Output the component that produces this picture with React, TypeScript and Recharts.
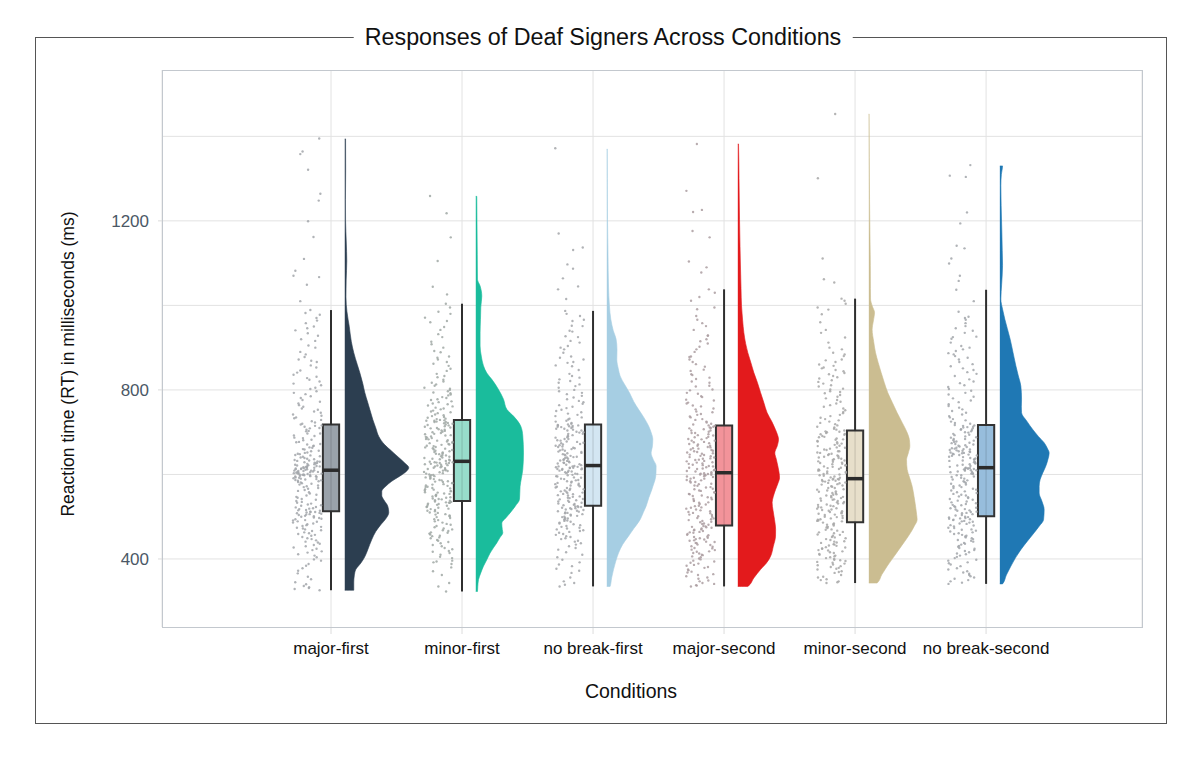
import React from "react";
import {
  ComposedChart,
  Scatter,
  XAxis,
  YAxis,
  CartesianGrid,
  ReferenceArea,
  ReferenceLine,
} from "recharts";

const CONDITIONS = [
  "major-first",
  "minor-first",
  "no break-first",
  "major-second",
  "minor-second",
  "no break-second",
];

const Y_TICKS = [400, 800, 1200];
const Y_GRID = [400, 600, 800, 1000, 1200, 1400];

const VIOLIN_COLORS = ["#2c3e50", "#1abc9c", "#a6cee3", "#e31a1c", "#cbbd91", "#1f78b4"];
const BOX_COLORS = ["#9aa2aa", "#98dccb", "#d3e6f2", "#f2939a", "#e7dfca", "#97bddc"];
const POINT_COLORS = ["#a2a6aa", "#a0a8a5", "#a3a6a9", "#ab9da1", "#a7a7a7", "#a2a6aa"];

// box plot stats (ms)
const WHISKER_LOW = [326, 323, 335, 335, 343, 341];
const Q1 = [513, 537, 526, 479, 487, 501];
const MEDIAN = [610, 631, 621, 604, 590, 616];
const Q3 = [718, 729, 718, 716, 704, 717];
const WHISKER_HIGH = [989, 1004, 987, 1038, 1016, 1037];

// reaction times per condition (ms)
const RT_MAJOR_FIRST = [
  326, 329, 333, 336, 340, 352, 366, 378, 388, 396, 404, 411, 418, 424, 430, 436, 441, 447, 452, 457,
  461, 466, 470, 474, 478, 482, 486, 489, 492, 495, 498, 500, 502, 504, 506, 507, 509, 510, 511, 512,
  514, 516, 518, 520, 523, 526, 529, 533, 537, 542, 547, 552, 558, 563, 568, 572, 576, 579, 582, 585,
  587, 589, 591, 593, 595, 596, 597, 598, 599, 600, 601, 602, 603, 604, 605, 606, 607, 608, 609, 610,
  611, 612, 613, 614, 615, 616, 617, 618, 619, 620, 621, 622, 624, 626, 628, 630, 632, 634, 637, 640,
  643, 646, 649, 652, 656, 660, 664, 668, 672, 677, 682, 687, 692, 697, 702, 706, 710, 713, 716, 718,
  723, 729, 735, 742, 749, 756, 764, 772, 781, 790, 797, 805, 815, 824, 831, 841, 853, 866, 872, 884,
  900, 916, 928, 941, 950, 964, 978, 989, 1049, 1067, 1070, 1082, 1162, 1199, 1248, 1264, 1321, 1358, 1364, 1395,
  331, 345, 358, 372, 384, 399, 408, 415, 421, 427, 433, 439, 444, 449, 455, 459, 463, 468, 472, 476,
  480, 484, 488, 491, 494, 497, 501, 505, 508, 511, 515, 519, 522, 527, 531, 535, 540, 545, 550, 555,
  561, 566, 570, 574, 578, 581, 584, 586, 588, 590, 592, 594, 596, 598, 600, 602, 604, 606, 608, 609,
  612, 614, 616, 618, 620, 623, 625, 627, 629, 631, 633, 636, 639, 642, 645, 648, 651, 655, 659, 663,
  667, 671, 676, 681, 686, 691, 697, 703, 709, 715, 720, 726, 733, 739, 746, 753, 760, 768, 776, 785,
  793, 802, 811, 820, 828, 836, 846, 858, 869, 878, 890, 905, 920, 934, 946, 958, 970, 982, 1010, 1110,
];
const RT_MINOR_FIRST = [
  323, 343, 371, 388, 392, 396, 405, 414, 419, 426, 433, 440, 445, 451, 455, 460, 463, 468, 472, 478,
  483, 489, 494, 499, 503, 506, 510, 513, 516, 519, 521, 524, 526, 528, 530, 531, 533, 534, 535, 536,
  538, 541, 543, 546, 549, 551, 554, 557, 560, 562, 565, 568, 571, 573, 576, 579, 582, 584, 587, 590,
  592, 595, 598, 600, 603, 605, 608, 610, 613, 615, 617, 619, 621, 623, 624, 626, 627, 628, 629, 630,
  632, 635, 637, 640, 642, 645, 648, 650, 653, 656, 659, 661, 664, 667, 670, 672, 675, 678, 681, 684,
  687, 690, 692, 695, 698, 701, 703, 706, 709, 711, 713, 716, 718, 720, 722, 724, 725, 727, 728, 729,
  732, 736, 740, 745, 749, 754, 758, 763, 768, 773, 778, 783, 789, 794, 800, 805, 813, 820, 833, 845,
  857, 866, 872, 879, 889, 900, 914, 932, 949, 963, 971, 985, 995, 1004, 1026, 1044, 1105, 1161, 1218, 1259,
  335, 362, 380, 394, 402, 410, 417, 423, 430, 437, 443, 449, 454, 458, 462, 466, 470, 475, 481, 486,
  492, 497, 501, 505, 509, 514, 518, 523, 528, 533, 539, 542, 545, 548, 552, 555, 558, 561, 564, 567,
  570, 574, 577, 580, 583, 586, 589, 593, 596, 599, 602, 606, 609, 612, 616, 619, 622, 625, 627, 629,
  633, 636, 639, 643, 646, 649, 652, 655, 658, 662, 665, 668, 671, 674, 677, 680, 683, 686, 689, 693,
  696, 700, 704, 707, 710, 714, 717, 721, 724, 727, 731, 734, 738, 742, 747, 751, 756, 761, 766, 771,
  776, 781, 787, 792, 797, 803, 810, 817, 824, 830, 838, 850, 862, 876, 892, 908, 925, 942, 960, 980,
];
const RT_NOBREAK_FIRST = [
  335, 343, 347, 367, 372, 383, 387, 398, 410, 422, 430, 437, 443, 449, 454, 459, 464, 468, 472, 476,
  480, 484, 488, 491, 494, 497, 500, 503, 505, 508, 510, 512, 514, 516, 518, 520, 521, 523, 524, 525,
  527, 530, 533, 536, 539, 542, 545, 548, 551, 554, 557, 560, 563, 566, 569, 572, 575, 578, 581, 584,
  587, 590, 593, 596, 599, 601, 603, 605, 607, 609, 611, 612, 613, 614, 615, 616, 617, 618, 619, 620,
  622, 624, 627, 629, 632, 634, 637, 640, 642, 645, 648, 651, 654, 657, 660, 663, 666, 669, 672, 675,
  678, 681, 684, 687, 690, 693, 696, 699, 701, 704, 706, 708, 710, 712, 713, 714, 715, 716, 717, 718,
  722, 727, 732, 738, 744, 750, 757, 764, 771, 778, 786, 793, 800, 809, 817, 825, 833, 858, 864, 872,
  879, 896, 904, 916, 927, 940, 951, 963, 975, 987, 1015, 1038, 1045, 1064, 1087, 1097, 1131, 1137, 1170, 1372,
  339, 356, 377, 392, 404, 416, 426, 434, 441, 447, 452, 457, 462, 466, 470, 474, 478, 482, 486, 490,
  493, 496, 499, 502, 506, 509, 513, 517, 520, 523, 528, 531, 535, 538, 541, 544, 547, 550, 553, 556,
  559, 562, 565, 568, 571, 574, 577, 580, 583, 586, 589, 592, 595, 598, 602, 606, 609, 613, 616, 619,
  623, 626, 628, 631, 633, 636, 639, 641, 644, 647, 650, 653, 656, 659, 662, 665, 668, 671, 674, 677,
  680, 684, 688, 692, 696, 700, 704, 708, 712, 716, 720, 725, 730, 735, 741, 747, 753, 760, 767, 774,
  782, 790, 797, 805, 813, 821, 829, 838, 847, 856, 866, 876, 888, 900, 912, 925, 938, 952, 966, 980,
];
const RT_MAJOR_SECOND = [
  335, 338, 343, 347, 353, 359, 364, 370, 375, 381, 386, 391, 396, 401, 406, 410, 414, 418, 422, 426,
  430, 434, 438, 441, 444, 447, 450, 453, 456, 459, 462, 464, 466, 468, 470, 472, 474, 476, 477, 478,
  481, 484, 487, 490, 494, 497, 501, 504, 508, 511, 515, 519, 522, 526, 530, 534, 538, 542, 546, 550,
  554, 558, 562, 566, 570, 574, 578, 581, 584, 587, 590, 592, 594, 596, 598, 599, 600, 601, 602, 603,
  605, 608, 611, 614, 617, 620, 623, 626, 629, 632, 635, 638, 641, 644, 647, 650, 653, 656, 659, 662,
  665, 668, 671, 674, 677, 680, 683, 686, 689, 692, 695, 698, 701, 704, 707, 709, 711, 713, 715, 716,
  720, 725, 731, 737, 743, 749, 756, 763, 770, 777, 785, 793, 801, 810, 820, 829, 837, 848, 861, 872,
  879, 896, 910, 920, 929, 951, 966, 991, 1011, 1030, 1038, 1078, 1090, 1104, 1161, 1176, 1221, 1226, 1271, 1382,
  337, 341, 349, 356, 362, 368, 373, 379, 384, 389, 394, 399, 404, 409, 413, 417, 421, 425, 429, 433,
  437, 440, 443, 446, 449, 452, 457, 463, 469, 475, 483, 488, 492, 496, 500, 505, 509, 513, 517, 521,
  525, 529, 533, 537, 541, 545, 549, 553, 557, 561, 565, 569, 573, 577, 582, 586, 590, 595, 599, 602,
  607, 610, 613, 616, 619, 622, 625, 628, 631, 634, 637, 640, 643, 646, 649, 652, 655, 658, 661, 664,
  668, 672, 676, 680, 684, 688, 693, 698, 704, 710, 718, 723, 729, 735, 741, 747, 754, 761, 768, 775,
  783, 791, 799, 808, 817, 826, 835, 845, 855, 866, 878, 890, 902, 915, 928, 942, 958, 975, 995, 1020,
];
const RT_MINOR_SECOND = [
  343, 347, 352, 358, 367, 371, 375, 379, 383, 387, 391, 395, 398, 402, 406, 410, 414, 418, 421, 425,
  428, 432, 435, 439, 442, 445, 449, 452, 455, 458, 461, 464, 467, 470, 473, 476, 479, 482, 484, 486,
  489, 491, 494, 496, 499, 502, 505, 508, 511, 514, 517, 520, 523, 526, 529, 532, 535, 538, 541, 544,
  547, 550, 553, 556, 559, 562, 565, 568, 571, 574, 577, 579, 581, 583, 585, 586, 587, 588, 589, 590,
  592, 595, 598, 601, 604, 607, 610, 613, 616, 619, 622, 625, 628, 631, 634, 637, 640, 643, 646, 649,
  652, 655, 658, 661, 664, 667, 670, 673, 676, 679, 682, 685, 688, 691, 694, 696, 698, 700, 702, 704,
  708, 713, 719, 725, 731, 738, 745, 752, 760, 768, 776, 784, 792, 797, 803, 811, 819, 827, 833, 840,
  847, 853, 857, 866, 872, 880, 888, 900, 924, 942, 979, 995, 1004, 1011, 1016, 1054, 1062, 1111, 1301, 1453,
  345, 350, 356, 362, 369, 377, 381, 385, 389, 393, 397, 400, 404, 408, 412, 416, 420, 424, 427, 431,
  434, 438, 441, 447, 451, 457, 463, 469, 475, 481, 490, 493, 497, 500, 504, 507, 510, 513, 516, 519,
  522, 525, 528, 531, 534, 537, 540, 543, 546, 549, 552, 556, 560, 564, 568, 572, 576, 580, 584, 588,
  593, 597, 600, 603, 606, 609, 612, 615, 618, 621, 624, 627, 630, 633, 636, 639, 642, 645, 648, 651,
  655, 659, 663, 668, 673, 678, 683, 689, 695, 701, 706, 711, 716, 722, 728, 734, 741, 748, 756, 764,
  772, 780, 788, 795, 801, 808, 815, 823, 830, 837, 844, 851, 860, 870, 884, 896, 912, 935, 960, 990,
];
const RT_NOBREAK_SECOND = [
  341, 347, 353, 359, 365, 371, 378, 387, 392, 396, 402, 408, 413, 419, 424, 429, 434, 438, 443, 447,
  451, 455, 459, 463, 467, 470, 474, 477, 480, 483, 486, 488, 490, 492, 494, 495, 496, 498, 499, 500,
  503, 506, 509, 512, 515, 518, 521, 525, 528, 532, 536, 540, 544, 548, 552, 556, 560, 564, 568, 572,
  576, 580, 584, 588, 592, 595, 598, 601, 603, 605, 607, 609, 610, 611, 612, 613, 614, 615, 615, 616,
  618, 621, 624, 627, 630, 633, 636, 639, 642, 645, 647, 649, 651, 653, 655, 657, 659, 661, 663, 666,
  669, 672, 675, 678, 681, 684, 687, 690, 693, 696, 699, 702, 705, 707, 709, 711, 713, 715, 716, 717,
  722, 728, 735, 742, 750, 758, 766, 775, 784, 793, 802, 811, 820, 833, 842, 851, 861, 872, 880, 887,
  896, 904, 921, 926, 940, 951, 966, 973, 1037, 1058, 1070, 1099, 1111, 1135, 1141, 1194, 1220, 1304, 1307, 1332,
  344, 350, 356, 362, 368, 375, 383, 390, 398, 405, 411, 416, 421, 426, 431, 436, 441, 445, 449, 453,
  457, 461, 465, 469, 473, 479, 484, 489, 493, 497, 504, 508, 511, 514, 517, 520, 523, 527, 530, 534,
  538, 542, 546, 550, 554, 558, 562, 566, 570, 574, 578, 582, 586, 590, 594, 598, 602, 606, 610, 614,
  620, 623, 626, 629, 632, 635, 638, 641, 644, 646, 648, 650, 652, 654, 656, 658, 660, 662, 665, 668,
  671, 674, 677, 680, 684, 688, 694, 700, 706, 712, 720, 725, 731, 738, 746, 754, 762, 771, 780, 789,
  798, 807, 816, 825, 838, 847, 856, 866, 876, 884, 892, 900, 912, 925, 935, 946, 958, 970, 985, 1010,
];
const RT = [RT_MAJOR_FIRST, RT_MINOR_FIRST, RT_NOBREAK_FIRST, RT_MAJOR_SECOND, RT_MINOR_SECOND, RT_NOBREAK_SECOND];

// half-violin profiles, top to bottom: [ms, density (arbitrary units)]
const DENSITY_MAJOR_FIRST = [
  [1394, 0.8], [1320, 0.9], [1250, 0.7], [1200, 0.8], [1150, 1.5], [1105, 2.0], [1060, 1.4], [1020, 1.2],
  [985, 2.2], [950, 4.5], [915, 6.5], [888, 9], [860, 12.5], [841, 15], [815, 18], [794, 20], [770, 23],
  [754, 25], [730, 28], [710, 31], [690, 34], [670, 40], [655, 47], [640, 54], [627, 60], [616, 64],
  [606, 61], [596, 55], [584, 47], [572, 41], [560, 37], [550, 37], [540, 39], [525, 43], [510, 44],
  [495, 41], [481, 36], [465, 31], [446, 27], [422, 23], [405, 20], [390, 16], [375, 11], [360, 9.5],
  [345, 9], [326, 9],
];
const DENSITY_MINOR_FIRST = [
  [1258, 1], [1200, 1.2], [1120, 1.5], [1062, 1.7], [1046, 4.3], [1022, 6], [995, 5], [967, 4.7],
  [935, 4.3], [904, 4.3], [880, 5.5], [857, 7.7], [840, 11], [825, 16], [801, 22.7], [778, 27.7],
  [754, 31], [738, 37.7], [714, 45], [691, 47], [651, 47.7], [612, 47], [590, 45.5], [572, 44.3],
  [555, 44], [541, 43.7], [525, 39.5], [509, 34.3], [497, 30], [485, 26], [470, 26.5], [462, 27],
  [450, 24], [438, 21], [426, 17.5], [414, 14.3], [398, 11], [383, 7.7], [367, 5], [351, 2.7],
  [335, 2], [323, 1.7],
];
const DENSITY_NOBREAK_FIRST = [
  [1370, 0.5], [1300, 0.6], [1204, 0.7], [1120, 1.2], [1046, 1.7], [1000, 2.6], [967, 4], [940, 6.5],
  [920, 9.3], [895, 10.2], [872, 10], [850, 11.5], [833, 13.3], [812, 18], [793, 22.7], [772, 27],
  [754, 31.7], [735, 37], [715, 41.7], [698, 44.5], [683, 46], [665, 45.5], [651, 44.3], [635, 46.5],
  [620, 49.3], [604, 49.2], [588, 48.3], [575, 46.5], [564, 45], [545, 42], [525, 39.3], [510, 36.5],
  [493, 33.3], [472, 27], [454, 21.7], [435, 16], [414, 11.7], [395, 9], [375, 6.7], [355, 4.8],
  [335, 3.3],
];
const DENSITY_MAJOR_SECOND = [
  [1382, 0.7], [1300, 1.2], [1204, 1.7], [1140, 2.2], [1086, 2.7], [1040, 3.2], [999, 3.7], [965, 4.8],
  [936, 6], [910, 7.8], [888, 10], [865, 13], [841, 16], [818, 19.5], [794, 22.7], [770, 26],
  [746, 29.3], [725, 34], [706, 37.7], [695, 39.5], [683, 40.7], [668, 39.5], [651, 37], [636, 38.5],
  [620, 40], [605, 41.2], [592, 41.7], [578, 40], [564, 37.7], [548, 35.5], [533, 34.3], [515, 35.2],
  [493, 36.7], [470, 37.8], [454, 37.7], [430, 35.5], [406, 32.7], [390, 28.5], [375, 22.7], [355, 16],
  [335, 10],
];
const DENSITY_MINOR_SECOND = [
  [1453, 0.3], [1350, 0.5], [1251, 0.7], [1170, 1.1], [1094, 1.5], [1040, 1.6], [1015, 1.7], [998, 3.5],
  [983, 5.7], [963, 4.5], [943, 3.3], [915, 4.8], [888, 6.7], [865, 9.3], [841, 12.3], [817, 15.5],
  [793, 19], [770, 23.5], [746, 28.3], [722, 33.5], [699, 38.3], [683, 40.5], [667, 41], [651, 39.5],
  [635, 37.7], [612, 38.3], [592, 40.8], [572, 43.3], [548, 45.2], [525, 46.7], [505, 47.8], [493, 48.3],
  [478, 45.5], [462, 41.7], [442, 36], [422, 30], [402, 24], [383, 18.3], [363, 13], [343, 8.3],
];
const DENSITY_NOBREAK_SECOND = [
  [1330, 2.7], [1310, 1.5], [1283, 1], [1236, 1.3], [1173, 2], [1130, 2.4], [1094, 2.7], [1050, 1.8],
  [1015, 1], [990, 2.8], [967, 5], [945, 7.5], [920, 10.3], [888, 13.2], [857, 16], [833, 18.5],
  [809, 21], [778, 21.7], [760, 21.5], [746, 21.7], [726, 27], [707, 32.7], [690, 38.5], [675, 44.3],
  [662, 47.5], [651, 49.3], [635, 48], [620, 46], [604, 43], [588, 40.3], [572, 39.3], [556, 39.3],
  [537, 42], [517, 44.3], [493, 43.7], [478, 39.5], [462, 34.3], [442, 27.5], [422, 21], [402, 15.5],
  [383, 11], [362, 6.5], [341, 2.7],
];
const DENSITY = [
  DENSITY_MAJOR_FIRST,
  DENSITY_MINOR_FIRST,
  DENSITY_NOBREAK_FIRST,
  DENSITY_MAJOR_SECOND,
  DENSITY_MINOR_SECOND,
  DENSITY_NOBREAK_SECOND,
];

// layout, in x-axis units (1 = distance between two conditions)
const BOX_HALF = 0.062;
const VIOLIN_GAP = 0.105;
const DENSITY_SCALE = 1 / 131;
const CLOUD_CENTER = -0.18;
const CLOUD_HALF = 0.11;

const FONT = "'Liberation Sans', Arial, Helvetica, sans-serif";

// deterministic jitter so the picture is stable
const jitter = (k: number) => {
  const s = Math.sin((k + 1) * 12.9898) * 43758.5453;
  return s - Math.floor(s);
};

const cloudData = (i: number) =>
  RT[i].map((y, k) => ({
    x: i + 1 + CLOUD_CENTER + CLOUD_HALF * (2 * jitter(k + i * 331) - 1),
    y,
  }));

const violinData = (i: number) => {
  const prof = DENSITY[i];
  const base = i + 1 + VIOLIN_GAP;
  return [
    { x: base, y: prof[0][0] + 0.01 },
    ...prof.map(([y, d]) => ({ x: base + d * DENSITY_SCALE, y })),
    { x: base, y: prof[prof.length - 1][0] - 0.01 },
  ];
};

const noShape = () => <g />;
const dotShape = (color: string) => (props: any) =>
  <circle cx={props.cx} cy={props.cy} r={1.2} fill={color} fillOpacity={0.85} />;

export default function App() {
  return (
    <div style={{ position: "absolute", left: 0, top: 0, width: 1200, height: 757, background: "#fff", fontFamily: FONT }}>
      <div
        style={{
          position: "absolute",
          left: 35,
          top: 37,
          width: 1132,
          height: 687,
          border: "1px solid #555",
          boxSizing: "border-box",
        }}
      />
      <div
        style={{
          position: "absolute",
          left: 603,
          top: 37,
          transform: "translate(-50%, -50%)",
          background: "#fff",
          padding: "0 11px",
          fontSize: 23.3,
          color: "#111",
          whiteSpace: "nowrap",
        }}
      >
        Responses of Deaf Signers Across Conditions
      </div>

      <div style={{ position: "absolute", left: 0, top: 0 }}>
        <ComposedChart width={1200} height={757} margin={{ top: 70, right: 58, bottom: 90, left: 102 }}>
          <CartesianGrid stroke="#e2e2e2" horizontalValues={Y_GRID} />
          <XAxis
            dataKey="x"
            type="number"
            domain={[-0.29, 7.19]}
            allowDataOverflow
            ticks={[1, 2, 3, 4, 5, 6]}
            interval={0}
            tickFormatter={(v: number) => CONDITIONS[v - 1]}
            axisLine={false}
            tickLine={{ stroke: "#dcdcdc" }}
            tickSize={7}
            tickMargin={8}
            height={40}
            tick={{ fontSize: 17, fill: "#111", fontFamily: FONT }}
          />
          <YAxis
            dataKey="y"
            type="number"
            domain={[239, 1557]}
            allowDataOverflow
            ticks={Y_TICKS}
            interval={0}
            axisLine={false}
            tickLine={{ stroke: "#dcdcdc" }}
            tickSize={4}
            tickMargin={9}
            width={60}
            tick={{ fontSize: 17, fill: "#4b5866", fontFamily: FONT }}
          />

          {CONDITIONS.map((c, i) => (
            <Scatter
              key={"pts-" + c}
              data={cloudData(i)}
              shape={dotShape(POINT_COLORS[i])}
              isAnimationActive={false}
            />
          ))}

          {CONDITIONS.map((c, i) => (
            <Scatter
              key={"vio-" + c}
              data={violinData(i)}
              shape={noShape}
              line={{ fill: VIOLIN_COLORS[i], stroke: VIOLIN_COLORS[i], strokeWidth: 0.6 }}
              lineJointType="monotoneY"
              isAnimationActive={false}
            />
          ))}

          {CONDITIONS.map((c, i) => (
            <ReferenceLine
              key={"wlo-" + c}
              segment={[{ x: i + 1, y: WHISKER_LOW[i] }, { x: i + 1, y: Q1[i] }]}
              stroke="#2f2f2f"
              strokeWidth={2}
            />
          ))}
          {CONDITIONS.map((c, i) => (
            <ReferenceLine
              key={"whi-" + c}
              segment={[{ x: i + 1, y: Q3[i] }, { x: i + 1, y: WHISKER_HIGH[i] }]}
              stroke="#2f2f2f"
              strokeWidth={2}
            />
          ))}
          {CONDITIONS.map((c, i) => (
            <ReferenceArea
              key={"box-" + c}
              x1={i + 1 - BOX_HALF}
              x2={i + 1 + BOX_HALF}
              y1={Q1[i]}
              y2={Q3[i]}
              fill={BOX_COLORS[i]}
              fillOpacity={1}
              stroke="#333"
              strokeWidth={2}
            />
          ))}
          {CONDITIONS.map((c, i) => (
            <ReferenceLine
              key={"win-" + c}
              segment={[{ x: i + 1, y: Q1[i] }, { x: i + 1, y: Q3[i] }]}
              stroke="#000"
              strokeOpacity={0.1}
              strokeWidth={1.5}
            />
          ))}
          {CONDITIONS.map((c, i) => (
            <ReferenceLine
              key={"med-" + c}
              segment={[{ x: i + 1 - BOX_HALF, y: MEDIAN[i] }, { x: i + 1 + BOX_HALF, y: MEDIAN[i] }]}
              stroke="#2b2b2b"
              strokeWidth={3.5}
            />
          ))}
        </ComposedChart>
      </div>

      <div
        style={{
          position: "absolute",
          left: 162,
          top: 70,
          width: 981,
          height: 558,
          border: "1px solid #c3c8ce",
          boxSizing: "border-box",
          pointerEvents: "none",
        }}
      />

      <div
        style={{
          position: "absolute",
          left: 68,
          top: 364,
          transform: "translate(-50%, -50%) rotate(-90deg)",
          fontSize: 17.5,
          color: "#111",
          whiteSpace: "nowrap",
        }}
      >
        Reaction time (RT) in milliseconds (ms)
      </div>
      <div
        style={{
          position: "absolute",
          left: 631,
          top: 691,
          transform: "translate(-50%, -50%)",
          fontSize: 19.5,
          color: "#111",
          whiteSpace: "nowrap",
        }}
      >
        Conditions
      </div>
    </div>
  );
}
